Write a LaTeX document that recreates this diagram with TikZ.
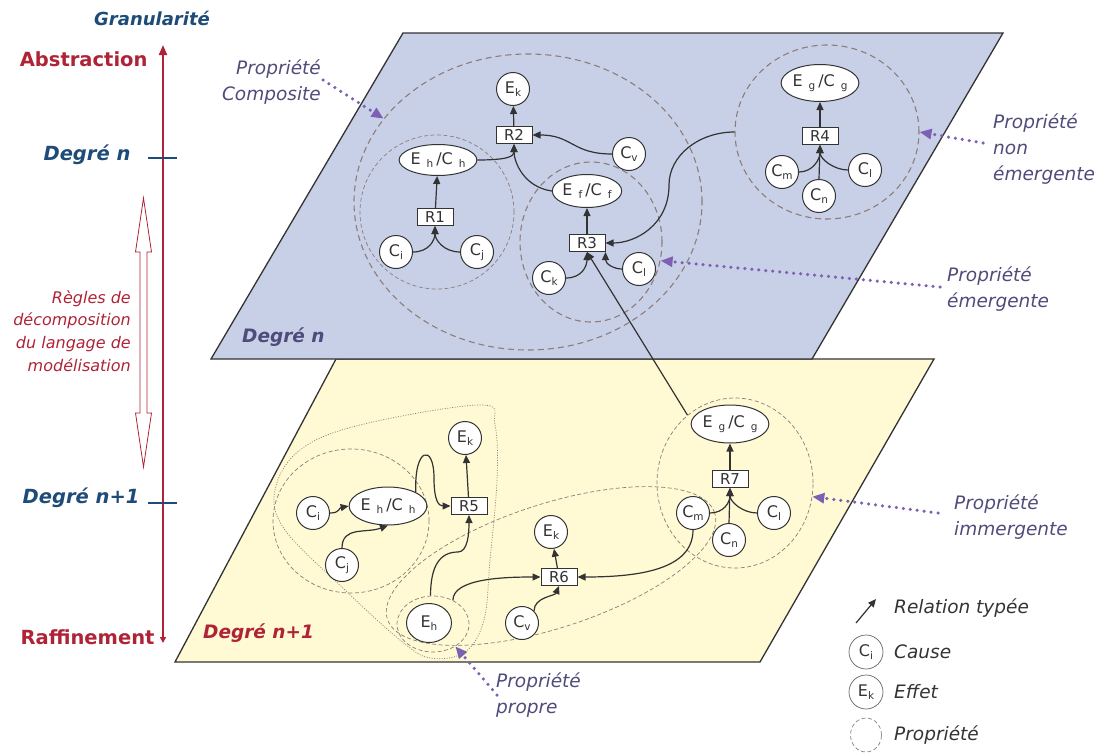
\documentclass[tikz,border=0pt]{standalone}
\usepackage{fontspec}
\setmainfont{DejaVu Sans}
\usetikzlibrary{shapes.geometric,arrows.meta}

\definecolor{planeblue}{HTML}{C8D0E8}
\definecolor{planeyel}{HTML}{FFF9D4}
\definecolor{axisred}{HTML}{AF2337}
\definecolor{gradblue}{HTML}{1E4B78}
\definecolor{anntext}{HTML}{4F4B7A}
\definecolor{purp}{HTML}{7D5FB4}
\definecolor{propc}{HTML}{8C7D78}
\definecolor{linec}{HTML}{333333}

\newcommand\ndfont{\fontsize{16}{18}\selectfont}
\newcommand\anfont{\fontsize{18.5}{26}\selectfont\itshape}
\newcommand\axfont{\fontsize{19.5}{22}\selectfont\bfseries}
\newcommand\sbx[1]{\raisebox{-0.35ex}{\fontsize{10.5}{11}\selectfont#1}}
\newcommand\ecx[2]{#1\hspace{6pt}\sbx{#2}\hspace{3pt}/C\hspace{6pt}\sbx{#2}}

\begin{document}
\begin{tikzpicture}[x=1pt,y=-1pt,
  plane/.style={draw=black!80,line width=1.3pt},
  cause/.style={circle,draw=linec,fill=white,line width=1pt,minimum size=33pt,inner sep=0pt,text=linec,font=\ndfont},
  effet/.style={ellipse,draw=linec,fill=white,line width=1pt,inner sep=0pt,text=linec,font=\ndfont},
  relbox/.style={rectangle,draw=linec,fill=white,line width=1pt,minimum width=36pt,minimum height=17pt,inner sep=1pt,text=linec,font=\fontsize{15}{16}\selectfont},
  prop/.style={ellipse,draw=propc,line width=1.1pt,dash pattern=on 6pt off 4pt,inner sep=0pt},
  propfin/.style={ellipse,draw=propc,line width=0.7pt,dash pattern=on 4pt off 2.5pt,inner sep=0pt},
  rel/.style={draw=linec,line width=1.2pt,-{Triangle[length=8pt,width=7pt]}},
  pointer/.style={draw=purp,line width=3.5pt,line cap=round,dash pattern=on 0pt off 7pt,-{Triangle[length=12pt,width=10pt]}},
  annot/.style={font=\anfont,text=anntext,inner sep=0pt},
  legtext/.style={font=\anfont,text=linec,inner sep=0pt,anchor=west}]
\useasboundingbox (0,0) rectangle (1104,755);

\fill[planeyel] (336,359) -- (934,359) -- (760,662) -- (175,662) -- cycle;
\draw[plane] (336,359) -- (934,359) -- (760,662) -- (175,662) -- cycle;
\fill[planeblue] (403,33) -- (1003,33) -- (812,359) -- (211,359) -- cycle;
\draw[plane] (403,33) -- (1003,33) -- (812,359) -- (211,359) -- cycle;

\draw[axisred,line width=2pt,{Triangle[length=6pt,width=6pt]}-{Triangle[length=10pt,width=8pt]}] (163,643) -- (163,45);
\draw[gradblue,line width=1.2pt] (148,158) -- (177,158) (148,503) -- (177,503);
\draw[axisred,fill=white,line width=0.8pt] (143.5,198) -- (151.5,252) -- (147,252) -- (147,413) -- (151.5,413) -- (143.5,467) -- (135.5,413) -- (140,413) -- (140,252) -- (135.5,252) -- cycle;
\node[font=\fontsize{18}{20}\selectfont\bfseries\itshape,text=gradblue] (gran) at (152,18) {Granularité};
\node[font=\axfont,text=axisred,anchor=east] (abs) at (151,59) {Abstraction};
\node[font=\axfont\itshape,text=gradblue,anchor=east] (dn) at (134,155) {Degré n};
\node[font=\axfont\itshape,text=gradblue,anchor=east] (dn1) at (143,498) {Degré n+1};
\node[font=\axfont,text=axisred,anchor=east] (raf) at (158,637) {Raffinement};
\node[font=\fontsize{16}{22.7}\selectfont\itshape,text=axisred,align=right,anchor=east,inner sep=0pt] (regles) at (131,331) {Règles de\\décomposition\\du langage de\\modélisation};
\node[font=\fontsize{18.5}{22}\selectfont\bfseries\itshape,text=anntext,anchor=west,inner sep=0pt] (plan1) at (242,337) {Degré n};
\node[font=\fontsize{18.5}{22}\selectfont\bfseries\itshape,text=axisred,anchor=west,inner sep=0pt] (plan2) at (203,633) {Degré n+1};

\node[prop,minimum width=348pt,minimum height=296pt] (P0) at (528,202) {};
\node[propfin,minimum width=154pt,minimum height=154pt] (P1) at (437,212) {};
\node[prop,minimum width=142pt,minimum height=160pt] (P3) at (591,242) {};
\node[prop,minimum width=184pt,minimum height=174pt] (P4) at (827,132) {};
\node[propfin,minimum width=156pt,minimum height=144pt] (P5) at (351,521) {};
\node[propfin,minimum width=344pt,minimum height=124pt,rotate=18] (P6) at (551,566) {};
\node[propfin,minimum width=156pt,minimum height=170pt] (P7) at (735,483) {};
\node[propfin,minimum width=72pt,minimum height=56pt] (P8) at (433,624) {};
\draw[propc,line width=0.7pt,dash pattern=on 1pt off 1.5pt] plot[smooth cycle,tension=0.6] coordinates {(480,405) (495,425) (497,480) (490,560) (484,620) (465,652) (430,658) (400,640) (345,590) (285,530) (275,490) (300,450) (360,425)};

\node[cause] (Ek1) at (513,89) {E\sbx{k}};
\node[relbox] (R2) at (514,135) {R2};
\node[cause] (Cv1) at (629,154) {C\sbx{v}};
\node[effet,minimum width=63pt,minimum height=31pt] (EC1) at (438,160) {\ecx{E}{h}};
\node[relbox] (R1) at (435,217) {R1};
\node[cause] (Ci1) at (396,252) {C\sbx{i}};
\node[cause] (Cj1) at (477,252) {C\sbx{j}};
\node[effet,minimum width=65pt,minimum height=33pt] (EC2) at (587,191) {\ecx{E}{f}};
\node[relbox] (R3) at (587,243) {R3};
\node[cause] (Ck1) at (549,278) {C\sbx{k}};
\node[cause] (Cl1) at (639,269) {C\sbx{l}};
\node[effet,minimum width=73pt,minimum height=37pt] (EC3) at (820,83) {\ecx{E}{g}};
\node[relbox] (R4) at (820,136) {R4};
\node[cause] (Cm1) at (782,172) {C\sbx{m}};
\node[cause] (Cn1) at (819,196) {C\sbx{n}};
\node[cause] (Cl2) at (865,170) {C\sbx{l}};

\node[cause] (Ek2) at (465,438) {E\sbx{k}};
\node[relbox] (R5) at (469,506) {R5};
\node[effet,minimum width=72pt,minimum height=38pt] (EC4) at (388,506) {\ecx{E}{h}};
\node[cause] (Ci2) at (313,513) {C\sbx{i}};
\node[cause] (Cj2) at (342,565) {C\sbx{j}};
\node[effet,minimum width=45pt,minimum height=39pt] (Eh2) at (429,623) {E\sbx{h}};
\node[cause] (Cv2) at (522,623) {C\sbx{v}};
\node[relbox] (R6) at (559,577) {R6};
\node[cause] (Ek3) at (551,532) {E\sbx{k}};
\node[effet,minimum width=72pt,minimum height=38pt] (EC5) at (730,424) {\ecx{E}{g}};
\node[relbox] (R7) at (730,479) {R7};
\node[cause] (Cm2) at (693,513) {C\sbx{m}};
\node[cause] (Cn2) at (729,540) {C\sbx{n}};
\node[cause] (Cl3) at (774,513) {C\sbx{l}};

\draw[rel] (R1) -- (EC1);
\draw[rel] (Ci1.east) .. controls +(16,0) and +(0,14) .. (R1.south);
\draw[rel] (Cj1.west) .. controls +(-16,0) and +(0,14) .. (R1.south);
\draw[rel] (EC1.east) .. controls +(32,0) and +(0,12) .. (R2.south);
\draw[rel] (EC2.west) .. controls +(-28,-4) and +(0,18) .. (R2.south);
\draw[rel] (Cv1.west) .. controls +(-40,0) and +(40,0) .. (R2.east);
\draw[rel] (R2) -- (Ek1);
\draw[rel] (R3) -- (EC2);
\draw[rel] (Ck1.east) .. controls +(16,0) and +(0,14) .. (R3.south);
\draw[rel] (Cl1.west) .. controls +(-8,0) and +(0,12) .. (R3.south east);
\draw[rel] (P4.west) .. controls +(-35,0) and +(0,-30) .. (669,185) .. controls +(0,40) and +(30,0) .. (R3.east);
\draw[rel] (R4) -- (EC3);
\draw[rel] (Cm1.east) .. controls +(14,0) and +(0,14) .. (R4.south);
\draw[rel] (Cn1.north) -- (R4.south);
\draw[rel] (Cl2.west) .. controls +(-14,0) and +(0,14) .. (R4.south);
\draw[rel] (P7.125) -- (R3.south);

\draw[rel] (Ci2.east) .. controls +(10,0) and +(-10,2) .. (EC4.west);
\draw[rel] (Cj2.north) .. controls +(0,-22) and +(-22,8) .. (EC4.south);
\draw[rel] (EC4.north east) .. controls +(-2,-45) and +(0,-35) .. (434,478) .. controls +(0,22) and +(-12,0) .. (R5.west);
\draw[rel] (R5) -- (Ek2);
\draw[rel] (P8.95) .. controls +(0,-30) and +(-18,0) .. (458,552) .. controls +(10,0) and +(0,18) .. (R5.south);
\draw[rel] (P8.50) .. controls +(0,-22) and +(-35,0) .. (R6.west);
\draw[rel] (Cv2.north east) .. controls +(0,-14) and +(-4,10) .. (R6.south);
\draw[rel] (R6) -- (Ek3);
\draw[rel] (Cm2.south) .. controls +(0,40) and +(60,0) .. (R6.east);
\draw[rel] (R7) -- (EC5);
\draw[rel] (Cm2.east) .. controls +(14,0) and +(0,14) .. (R7.south);
\draw[rel] (Cn2.north) -- (R7.south);
\draw[rel] (Cl3.west) .. controls +(-14,0) and +(0,14) .. (R7.south);

\node[annot,align=right,anchor=east] (a0) at (321,82) {Propriété\\Composite};
\node[annot,align=left,anchor=west] (a4) at (993,149) {Propriété\\non\\émergente};
\node[annot,align=left,anchor=west] (a3) at (947,289) {Propriété\\émergente};
\node[annot,align=left,anchor=west] (a7) at (954,517) {Propriété\\immergente};
\node[annot,align=left,anchor=west] (a8) at (496,695) {Propriété\\propre};
\coordinate (s0) at (323,80);
\coordinate (s4) at (983,143);
\coordinate (s3) at (940,287);
\coordinate (s7) at (938,513);
\coordinate (s8) at (497,695);
\draw[pointer] (s0) -- (P0.150);
\draw[pointer] (s4) -- (P4.east);
\draw[pointer] (s3) -- (P3.-15);
\draw[pointer] (s7) -- (P7.-10);
\draw[pointer] (s8) -- (P8.-45);

\coordinate (lg0) at (856,623);
\coordinate (lg1) at (876,599);
\draw[rel] (lg0) -- (lg1);
\node[cause,minimum size=34pt,line width=0.7pt,draw=black!60] (lgC) at (866,652) {C\sbx{i}};
\node[cause,minimum size=34pt,line width=0.7pt,draw=black!60] (lgE) at (866,692) {E\sbx{k}};
\node[propfin,minimum width=31pt,minimum height=34pt] (lgP) at (866,735) {};
\node[legtext] (lt0) at (894,608) {Relation typée};
\node[legtext] (lt1) at (894,652) {Cause};
\node[legtext] (lt2) at (894,692) {Effet};
\node[legtext] (lt3) at (894,735) {Propriété};
\end{tikzpicture}
\end{document}
